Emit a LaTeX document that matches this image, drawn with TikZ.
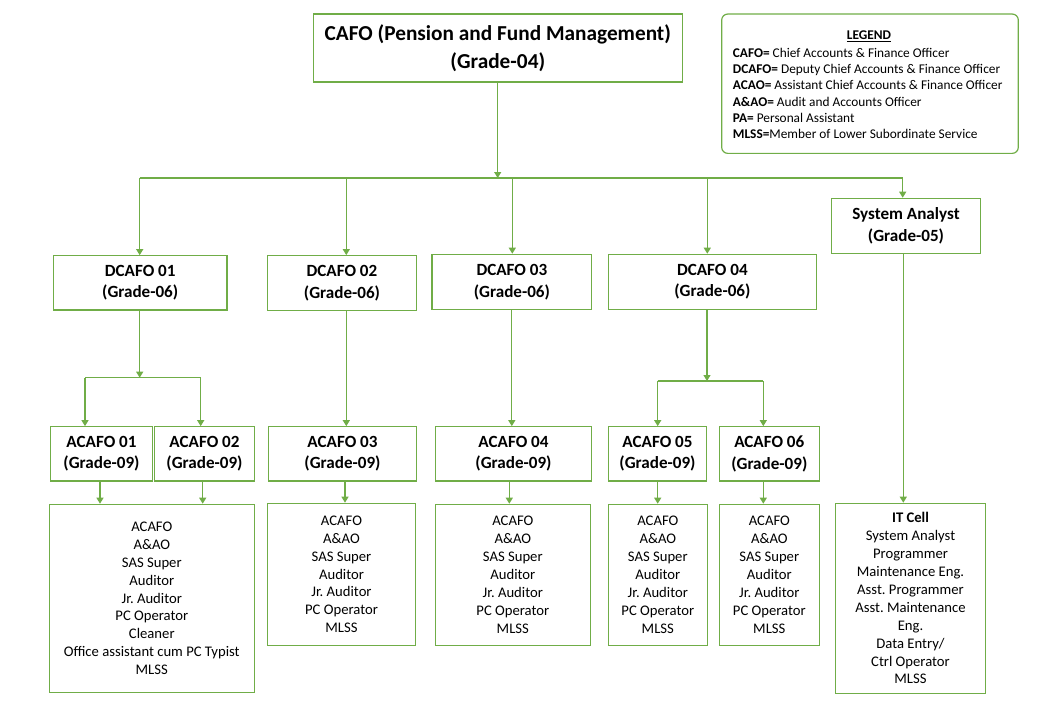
\documentclass[tikz,border=0pt]{standalone}
\usepackage{fontspec}
\setmainfont{Carlito}
\usetikzlibrary{arrows.meta}
\definecolor{offgreen}{HTML}{70AD47}
\frenchspacing
\newcommand\bodyfs{\fontsize{14.67}{17.9}\selectfont}
\newcommand\titlefs{\fontsize{17.1}{21.5}\selectfont\bfseries}
\newcommand\topfs{\fontsize{21.3}{27.6}\selectfont\bfseries}
\newcommand\legfs{\fontsize{13.33}{16.3}\selectfont}
\begin{document}
\begin{tikzpicture}[x=1pt,y=-1pt,
  box/.style={draw=offgreen, line width=1.2pt, inner sep=0pt, align=center, text=black},
  tbox/.style={box, font=\titlefs},
  bbox/.style={box, font=\bodyfs},
  conn/.style={draw=offgreen, line width=1.2pt},
  arr/.style={conn, -{Triangle[width=7pt,length=6pt]}}]
\useasboundingbox (0,0) rectangle (1045,716);
% top box
\node[box, font=\topfs, minimum width=369pt, minimum height=68pt] (cafo) at (497.8,48) {CAFO (Pension and Fund Management)\\(Grade-04)};
% legend
\node[draw=offgreen, line width=1.2pt, rounded corners=6pt, minimum width=296.6pt, minimum height=139.3pt, inner sep=0pt] (legend) at (870,83.7) {};
\node[font=\legfs\bfseries, inner sep=0pt] (legtitle) at (869,36) {\underline{LEGEND}};
\node[font=\legfs, align=left, anchor=west, inner sep=0pt] (legtext) at (732.7,93.3) {\textbf{CAFO=} Chief Accounts \& Finance Officer\\
\textbf{DCAFO=} Deputy Chief Accounts \& Finance Officer\\
\textbf{ACAO=} Assistant Chief Accounts \& Finance Officer\\
\textbf{A\&AO=} Audit and Accounts Officer\\
\textbf{PA=} Personal Assistant\\
\textbf{MLSS=}Member of Lower Subordinate Service};
% DCAFO row
\node[tbox, minimum width=173.7pt, minimum height=54.3pt] (d1) at (140.2,282.9) {DCAFO 01\\(Grade-06)};
\node[tbox, minimum width=149.4pt, minimum height=54.6pt] (d2) at (342,283) {DCAFO 02\\(Grade-06)};
\node[tbox, minimum width=159.7pt, minimum height=55.4pt] (d3) at (511.9,282) {DCAFO 03\\(Grade-06)};
\node[tbox, minimum width=208.2pt, minimum height=55pt] (d4) at (712.4,281.8) {DCAFO 04\\(Grade-06)};
\node[tbox, minimum width=149.4pt, minimum height=55pt] (sa) at (906,225.8) {System Analyst\\(Grade-05)};
% ACAFO row
\node[tbox, minimum width=102.4pt, minimum height=54.3pt] (a1) at (101.5,453.9) {ACAFO 01\\(Grade-09)};
\node[tbox, minimum width=99.6pt, minimum height=54.3pt] (a2) at (204.5,453.9) {ACAFO 02\\(Grade-09)};
\node[tbox, minimum width=148.4pt, minimum height=54.3pt] (a3) at (342.5,453.9) {ACAFO 03\\(Grade-09)};
\node[tbox, minimum width=156.4pt, minimum height=54.3pt] (a4) at (513.5,453.9) {ACAFO 04\\(Grade-09)};
\node[tbox, minimum width=98.4pt, minimum height=54.3pt] (a5) at (657.5,453.9) {ACAFO 05\\(Grade-09)};
\node[tbox, minimum width=100pt, minimum height=54.3pt] (a6) at (769.3,453.9) {ACAFO 06\\(Grade-09)};
% bottom lists
\node[bbox, minimum width=205pt, minimum height=188pt] (l1) at (151.8,598.3) {ACAFO\\A\&AO\\SAS Super\\Auditor\\Jr. Auditor\\PC Operator\\Cleaner\\Office assistant cum PC Typist\\MLSS};
\node[bbox, minimum width=148.4pt, minimum height=142pt] (l2) at (341.5,574.3) {ACAFO\\A\&AO\\SAS Super\\Auditor\\Jr. Auditor\\PC Operator\\MLSS};
\node[bbox, minimum width=155pt, minimum height=141pt] (l3) at (512.8,574.8) {ACAFO\\A\&AO\\SAS Super\\Auditor\\Jr. Auditor\\PC Operator\\MLSS};
\node[bbox, minimum width=99pt, minimum height=141pt] (l4) at (657.8,574.8) {ACAFO\\A\&AO\\SAS Super\\Auditor\\Jr. Auditor\\PC Operator\\MLSS};
\node[bbox, minimum width=100pt, minimum height=141pt] (l5) at (769.3,574.8) {ACAFO\\A\&AO\\SAS Super\\Auditor\\Jr. Auditor\\PC Operator\\MLSS};
\node[bbox, minimum width=150.4pt, minimum height=190pt] (it) at (910.5,598.3) {\textbf{IT Cell}\\System Analyst\\Programmer\\Maintenance Eng.\\Asst. Programmer\\Asst. Maintenance\\Eng.\\Data Entry/\\Ctrl Operator\\MLSS};
% junction coordinates
\coordinate (j0) at (497.7,178);
\coordinate (jb1) at (139.7,178);
\coordinate (jb2) at (346.3,178);
\coordinate (jb3) at (512.3,178);
\coordinate (jb4) at (707.3,178);
\coordinate (jb5) at (902.7,178);
\coordinate (k1) at (139.7,377.7);
\coordinate (k1l) at (85,377.7);
\coordinate (k1r) at (200.7,377.7);
\coordinate (k4) at (707,381);
\coordinate (k4l) at (657.7,381);
\coordinate (k4r) at (763.3,381);
\coordinate (x2) at (346.3,0);
\coordinate (x3) at (511.8,0);
\coordinate (xs) at (903.3,0);
\coordinate (y1) at (100,0);
\coordinate (y2) at (202.7,0);
\coordinate (y3) at (345,0);
\coordinate (y4) at (509.3,0);
\coordinate (y5) at (657.7,0);
\coordinate (y6) at (763.3,0);
% connectors
\draw[arr] (cafo.south -| j0) -- (j0);
\draw[conn] (jb1) -- (jb5);
\draw[arr] (jb1) -- (jb1 |- d1.north);
\draw[arr] (jb2) -- (jb2 |- d2.north);
\draw[arr] (jb3) -- (jb3 |- d3.north);
\draw[arr] (jb4) -- (jb4 |- d4.north);
\draw[arr] (jb5) -- (jb5 |- sa.north);
\draw[arr] (d1.south -| k1) -- (k1);
\draw[conn] (k1l) -- (k1r);
\draw[arr] (k1l) -- (k1l |- a1.north);
\draw[arr] (k1r) -- (k1r |- a2.north);
\draw[arr] (d2.south -| x2) -- (a3.north -| x2);
\draw[arr] (d3.south -| x3) -- (a4.north -| x3);
\draw[arr] (d4.south -| k4) -- (k4);
\draw[conn] (k4l) -- (k4r);
\draw[arr] (k4l) -- (k4l |- a5.north);
\draw[arr] (k4r) -- (k4r |- a6.north);
\draw[arr] (sa.south -| xs) -- (it.north -| xs);
\draw[arr] (a1.south -| y1) -- (l1.north -| y1);
\draw[arr] (a2.south -| y2) -- (l1.north -| y2);
\draw[arr] (a3.south -| y3) -- (l2.north -| y3);
\draw[arr] (a4.south -| y4) -- (l3.north -| y4);
\draw[arr] (a5.south -| y5) -- (l4.north -| y5);
\draw[arr] (a6.south -| y6) -- (l5.north -| y6);
\end{tikzpicture}
\end{document}
